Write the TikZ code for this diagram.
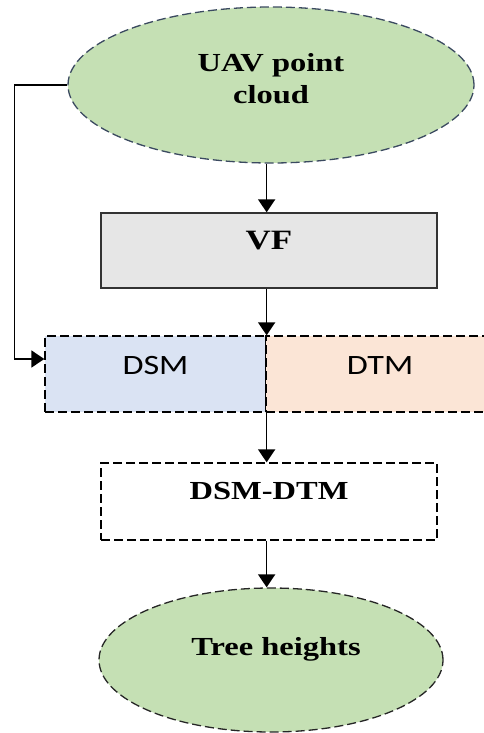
\documentclass[tikz,border=0pt]{standalone}
\usepackage{fontspec}
\setmainfont{Liberation Serif}[FakeStretch=1.25]
\newfontfamily\calib{Carlito}[FakeStretch=1.22]
\usetikzlibrary{shapes.geometric,arrows.meta}
\definecolor{leaf}{HTML}{C5E0B4}
\definecolor{grayfill}{HTML}{E6E6E6}
\definecolor{bluefill}{HTML}{DAE3F3}
\definecolor{peach}{HTML}{FBE5D6}
\definecolor{slate}{HTML}{3B4A60}
\tikzset{
  dsh/.style={dash pattern=on 9pt off 4pt},
  ell/.style={ellipse, fill=leaf, draw, line width=1.3pt, dsh, inner sep=0pt},
  boxx/.style={rectangle, draw, line width=1.3pt, inner sep=0pt},
  txt/.style={font=\bfseries\fontsize{26}{32}\selectfont, align=center, inner sep=0pt},
  stxt/.style={font=\calib\fontsize{28}{32}\selectfont, inner sep=0pt},
  arr/.style={line width=1.6pt, -{Triangle[length=13pt,width=17pt]}},
}
\begin{document}
\begin{tikzpicture}[x=1pt,y=-1pt]
\useasboundingbox (0,0) rectangle (484,733);
\node[ell, draw=slate, minimum width=406pt, minimum height=156pt] (top) at (271,85) {};
\node[txt] (toptxt) at ([yshift=6pt]top.center) {UAV point\\cloud};
\node[boxx, fill=grayfill, draw=black!80, minimum width=336pt, minimum height=75pt] (vf) at (269,250.5) {};
\node[txt, font=\bfseries\fontsize{28}{32}\selectfont] (vftxt) at ([yshift=10pt]vf.center) {VF};
\node[boxx, dsh, fill=bluefill, minimum width=221pt, minimum height=76pt] (dsm) at (155.5,374) {};
\node[boxx, dsh, fill=peach, minimum width=224pt, minimum height=76pt] (dtm) at (378,374) {};
\node[stxt] (dsmtxt) at ([yshift=8pt]dsm.center) {DSM};
\node[stxt] (dtmtxt) at ([yshift=8pt,xshift=2pt]dtm.center) {DTM};
\node[boxx, dsh, fill=white, minimum width=336pt, minimum height=77pt] (diff) at (269,501.5) {};
\node[txt] (difftxt) at ([yshift=10pt]diff.center) {DSM-DTM};
\node[ell, draw=black!85, minimum width=344pt, minimum height=144pt] (tree) at (271,660) {};
\node[txt] (treetxt) at ([yshift=11pt,xshift=5pt]tree.center) {Tree heights};
\coordinate (join) at (dsm.north east);
\draw[arr] (top.south -| join) -- (vf.north -| join);
\draw[arr] (vf.south -| join) -- (join);
\draw[arr] (dsm.south east) -- (diff.north -| join);
\draw[arr] (diff.south -| join) -- (tree.north -| join);
\draw[arr] (top.west) -- ++(-53,0) |- ([yshift=15pt]dsm.west);
\end{tikzpicture}
\end{document}
